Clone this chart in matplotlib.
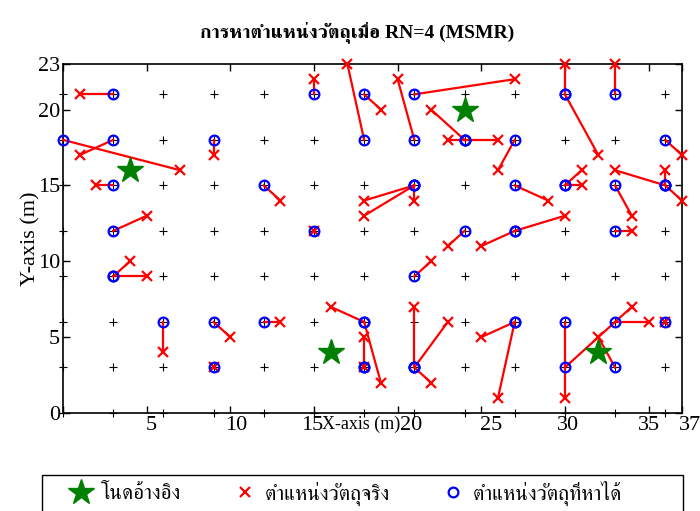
import numpy as np
import matplotlib
matplotlib.use("Agg")
import matplotlib.pyplot as plt
from matplotlib import font_manager as fm
from matplotlib.ft2font import FT2Font
from matplotlib.patches import Rectangle
from matplotlib.transforms import ScaledTranslation


def find_thai_family():
    # first installed family that actually has Thai glyphs, serif preferred
    found = []
    for f in fm.fontManager.ttflist:
        try:
            if FT2Font(f.fname).get_char_index(ord('ก')):
                found.append(f.name)
        except Exception:
            pass
    found.sort(key=lambda n: ('Serif' not in n, n))
    return found[0] if found else None


thai = find_thai_family()
families = ['Liberation Serif'] + ([thai] if thai else []) + ['DejaVu Sans']
plt.rcParams['font.family'] = families

# grid of candidate positions (+)
grid_x = np.arange(0, 37, 3)
grid_y = np.arange(0, 22, 3)

# reference nodes
ref_x = [4, 24, 16, 32]
ref_y = [16, 20, 4, 4]

# estimated position (o) -> real position (x), one row per object
est_x = [3, 0, 3, 9, 3, 12, 3, 3, 3, 15, 6, 9, 12, 9,
         15, 18, 18, 21, 21, 24, 24, 24, 21, 21, 21, 24, 21, 18, 18, 18, 18, 21, 21, 21,
         30, 30, 33, 27, 36, 27, 30, 30, 33, 36, 36, 36, 27, 27, 33, 27, 27, 30, 30, 33, 33, 36]
est_y = [21, 18, 18, 18, 15, 15, 12, 9, 9, 12, 6, 6, 6, 3,
         21, 21, 18, 21, 18, 18, 18, 18, 15, 15, 15, 12, 9, 6, 6, 3, 3, 3, 3, 3,
         21, 21, 21, 18, 18, 15, 15, 15, 15, 15, 15, 15, 12, 12, 12, 6, 6, 6, 3, 6, 3, 6]
real_x = [1, 7, 1, 9, 2, 13, 5, 4, 5, 15, 6, 10, 13, 9,
          15, 19, 17, 27, 20, 22, 23, 26, 18, 18, 21, 23, 22, 16, 19, 18, 18, 21, 23, 22,
          30, 32, 33, 26, 37, 29, 31, 31, 34, 33, 37, 36, 30, 25, 34, 25, 26, 30, 34, 35, 32, 36]
real_y = [21, 16, 17, 17, 15, 14, 13, 10, 9, 12, 4, 5, 6, 3,
          22, 20, 23, 22, 22, 20, 18, 18, 14, 13, 14, 11, 10, 7, 2, 5, 3, 7, 6, 2,
          23, 17, 23, 16, 17, 14, 16, 15, 13, 16, 14, 16, 13, 11, 12, 5, 1, 1, 7, 6, 5, 6]

x_ticks = [0, 5, 10, 15, 20, 25, 30, 35, 37]
x_ticklabels = ['', '5', '10', '15', '20', '25', '30', '35', '37']
y_ticks = [0, 5, 10, 15, 20, 23]

fig = plt.figure(figsize=(7.0, 5.11), dpi=100)
ax = fig.add_axes([63 / 700, 1 - 413 / 511, 619 / 700, 349 / 511])

gx, gy = np.meshgrid(grid_x, grid_y)
ax.plot(gx.ravel(), gy.ravel(), '+', color='black', ms=6, mew=0.8,
        linestyle='none', clip_on=False, zorder=2)

for ex, ey, rx, ry in zip(est_x, est_y, real_x, real_y):
    ax.plot([ex, rx], [ey, ry], '-', color='red', lw=1.6, clip_on=False, zorder=3)

ax.plot(real_x, real_y, 'x', color='red', ms=7.5, mew=1.6, linestyle='none',
        clip_on=False, zorder=4, label='ตำแหน่งวัตถุจริง')
ax.plot(est_x, est_y, 'o', mfc='none', mec='blue', ms=7, mew=1.6, linestyle='none',
        clip_on=False, zorder=5, label='ตำแหน่งวัตถุที่หาได้')
ax.plot(ref_x, ref_y, '*', color='green', ms=19, linestyle='none',
        clip_on=False, zorder=6, label='โนดอ้างอิง')

ax.set_xlim(0, 37)
ax.set_ylim(0, 23)
ax.set_xticks(x_ticks)
ax.set_xticklabels(x_ticklabels)
ax.set_yticks(y_ticks)
ax.tick_params(direction='in', top=True, right=True, length=5, width=1,
               labelsize=16, pad=2)
for s in ax.spines.values():
    s.set_linewidth(1.2)

# small sideways nudges of the x tick labels (pixels)
nudge = [0, 5, 6, -2, 14, 10, 3, 0, 8]
for lab, dx in zip(ax.get_xticklabels(), nudge):
    lab.set_transform(lab.get_transform() + ScaledTranslation(dx / 100, 0, fig.dpi_scale_trans))

# x label sits on the tick label row, between 15 and 20
ax.set_xlabel('X-axis (m)', fontsize=13, labelpad=-14, x=0.482)
ax.set_ylabel('Y-axis (m)', fontsize=16, labelpad=-2)
ax.set_title('การหาตำแหน่งวัตถุเมื่อ RN=4 (MSMR)', fontsize=14,
             fontweight='bold', pad=19, x=0.475)

# legend below the axes, box runs past the bottom edge
h, l = ax.get_legend_handles_labels()
order = [2, 0, 1]
leg = fig.legend([h[i] for i in order], [l[i] for i in order],
                 loc='center left', bbox_to_anchor=(55 / 700, 1 - 493 / 511),
                 ncol=3, fontsize=15, frameon=False, borderpad=0,
                 handlelength=1.5, handletextpad=0.2, columnspacing=2.3)
fig.add_artist(Rectangle((42 / 700, 1 - 522 / 511), 641 / 700, 47 / 511,
                         transform=fig.transFigure, fill=False,
                         edgecolor='black', lw=1.0, clip_on=False))

fig.savefig('out.png', dpi=100)
